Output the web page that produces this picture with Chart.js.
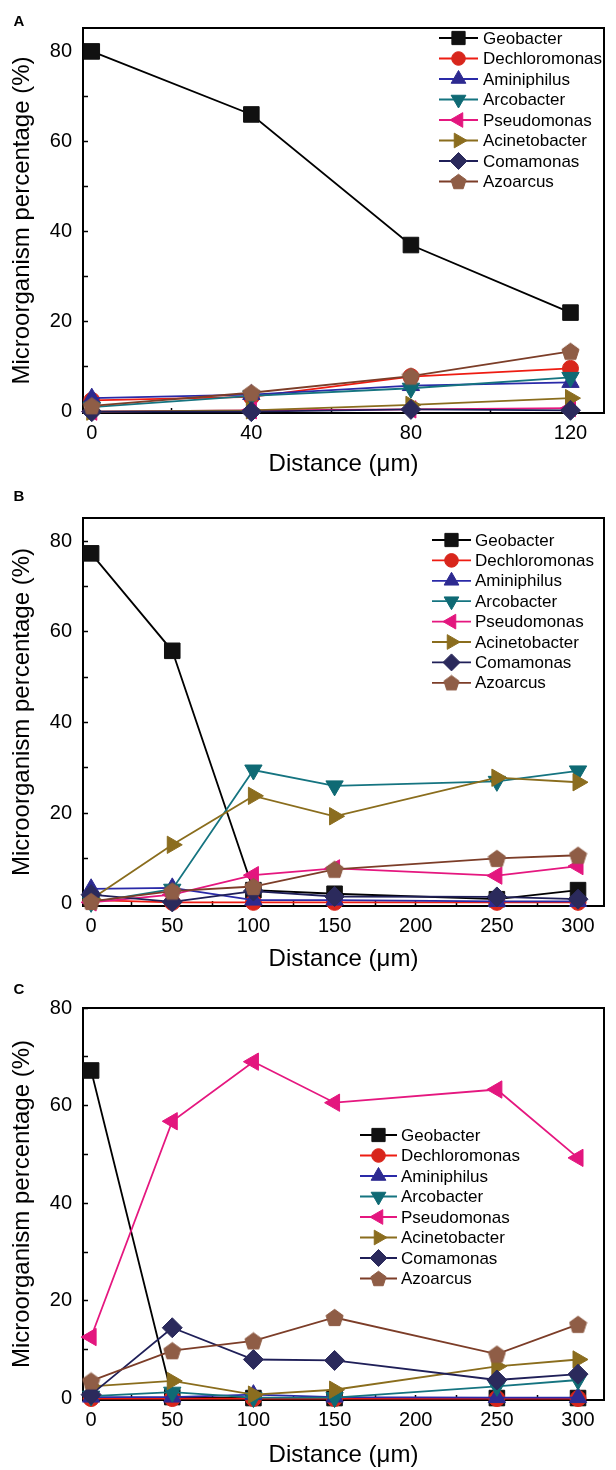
<!DOCTYPE html>
<html>
<head>
<meta charset="utf-8">
<title>Microorganism percentage vs distance</title>
<script src="https://cdn.jsdelivr.net/npm/chart.js@4.4.1/dist/chart.umd.min.js"></script>
<style>
  html, body { margin: 0; padding: 0; background: #fff; }
  body { width: 616px; height: 1470px; position: relative; overflow: hidden; }
  .panel { position: absolute; left: 0; width: 616px; height: 490px; }
</style>
</head>
<body>
<div class="panel" style="top:0"><canvas id="chartA"></canvas></div>
<div class="panel" style="top:490px"><canvas id="chartB"></canvas></div>
<div class="panel" style="top:980px"><canvas id="chartC"></canvas></div>
<script>
// ---------- data ----------
const seriesNames = ['Geobacter', 'Dechloromonas', 'Aminiphilus', 'Arcobacter',
  'Pseudomonas', 'Acinetobacter', 'Comamonas', 'Azoarcus'];
const panelLetters = ['A', 'B', 'C'];

const distA = [0, 40, 80, 120];
const distBC = [0, 50, 100, 150, 250, 300];

const xTicksA = [0, 40, 80, 120];
const xTicksBC = [0, 50, 100, 150, 200, 250, 300];
const yTicks = [0, 20, 40, 60, 80];

// panel A
const geobacterA = [80, 66, 37, 22];
const dechloromonasA = [2.5, 3.3, 7.8, 9.6];
const aminiphilusA = [3.0, 3.8, 5.8, 6.5];
const arcobacterA = [1.0, 3.5, 5.2, 7.6];
const pseudomonasA = [0.0, 0.3, 0.5, 0.8];
const acinetobacterA = [0.0, 0.3, 1.5, 3.0];
const comamonasA = [0.0, 0.0, 0.5, 0.3];
const azoarcusA = [1.3, 4.2, 7.9, 13.4];

// panel B
const geobacterB = [77.3, 55.8, 3.0, 2.2, 1.0, 3.0];
const dechloromonasB = [0.8, 0.3, 0.3, 0.3, 0.3, 0.3];
const aminiphilusB = [3.3, 3.5, 0.8, 0.8, 0.5, 0.5];
const arcobacterB = [0.3, 3.2, 29.5, 26.0, 27.0, 29.3];
const pseudomonasB = [0.3, 2.0, 6.3, 7.8, 6.2, 8.3];
const acinetobacterB = [1.0, 13.0, 23.8, 19.3, 27.8, 26.8];
const comamonasB = [2.0, 0.4, 2.8, 1.6, 1.5, 1.0];
const azoarcusB = [0.5, 2.8, 3.8, 7.6, 10.0, 10.7];

// panel C
const geobacterC = [67.2, 0.3, 0.1, 0.1, 0.1, 0.1];
const dechloromonasC = [0, 0, 0, 0, 0, 0];
const aminiphilusC = [0.3, 0.3, 0.8, 0.3, 0.2, 0.2];
const arcobacterC = [0.5, 1.3, 0.2, 0.2, 2.5, 3.8];
const pseudomonasC = [12.6, 56.8, 69.0, 60.6, 63.3, 49.3];
const acinetobacterC = [2.5, 3.6, 0.8, 1.8, 6.6, 8.0];
const comamonasC = [0.8, 14.5, 8.0, 7.8, 3.8, 5.0];
const azoarcusC = [3.6, 9.8, 11.8, 16.6, 9.1, 15.2];

// ---------- styling ----------
const FONT = '"Liberation Sans", Arial, sans-serif';
const lineColors = ['#000000', '#ee1c12', '#2a2aa8', '#157480', '#e5177f', '#8a6d1d', '#1f1f58', '#7c3d28'];
const markerColors = ['#111111', '#d8261c', '#2d2a90', '#0f6a74', '#e3167e', '#8b6d1f', '#2b2a5c', '#8f5d46'];
const markerStyles = ['rect', 'circle', 'triangle', 'triangle', 'triangle', 'triangle', 'rectRot', 'pentagon'];
const markerRotations = [0, 0, 0, 180, -90, 90, 0, 0];
const markerRadius = [11, 8, 10, 10, 10, 10, 10, 9];

// pentagon is not a built-in point style, so paint one on a small canvas
function pentagonImage(color, size) {
  const c = document.createElement('canvas');
  c.width = size; c.height = size;
  const g = c.getContext('2d');
  const r = size / 2 - 0.5;
  g.beginPath();
  for (let k = 0; k < 5; k++) {
    const a = -Math.PI / 2 + k * 2 * Math.PI / 5;
    const px = size / 2 + r * Math.cos(a);
    const py = size / 2 + r * Math.sin(a) + r * 0.095;
    if (k === 0) g.moveTo(px, py); else g.lineTo(px, py);
  }
  g.closePath();
  g.fillStyle = color;
  g.fill();
  g.lineWidth = 1;
  g.strokeStyle = color;
  g.stroke();
  return c;
}

function pointStyleFor(i, scale) {
  if (markerStyles[i] === 'pentagon') return pentagonImage(markerColors[i], Math.round(19 * scale));
  return markerStyles[i];
}

function buildDatasets(xs, rows) {
  return rows.map((row, i) => ({
    label: seriesNames[i],
    data: xs.map((x, j) => ({ x: x, y: row[j] })),
    borderColor: lineColors[i],
    backgroundColor: markerColors[i],
    borderWidth: 1.8,
    pointStyle: pointStyleFor(i, 1),
    pointRotation: markerRotations[i],
    pointRadius: markerRadius[i],
    pointBackgroundColor: markerColors[i],
    pointBorderColor: markerColors[i],
    pointBorderWidth: 1,
    tension: 0,
    clip: false,
    order: seriesNames.length - i
  }));
}

// ---------- plugins ----------
const framePlugin = {
  id: 'frame',
  afterDatasetsDraw(chart) {
    const { ctx, chartArea: a } = chart;
    ctx.save();
    ctx.strokeStyle = '#000';
    ctx.lineWidth = 2;
    ctx.beginPath();
    ctx.moveTo(a.left, a.top);
    ctx.lineTo(a.right, a.top);
    ctx.lineTo(a.right, a.bottom);
    ctx.stroke();
    ctx.restore();
  }
};

const insetLegend = {
  id: 'insetLegend',
  afterDraw(chart, args, opts) {
    const ctx = chart.ctx;
    ctx.save();
    ctx.font = '17px ' + FONT;
    ctx.textBaseline = 'middle';
    seriesNames.forEach((name, i) => {
      const y = opts.y0 + i * opts.dy;
      ctx.strokeStyle = lineColors[i];
      ctx.lineWidth = 1.8;
      ctx.beginPath();
      ctx.moveTo(opts.x0, y);
      ctx.lineTo(opts.x1, y);
      ctx.stroke();
      ctx.fillStyle = markerColors[i];
      ctx.strokeStyle = markerColors[i];
      ctx.lineWidth = 1;
      Chart.helpers.drawPoint(ctx, {
        pointStyle: pointStyleFor(i, 0.9),
        rotation: markerRotations[i],
        radius: markerRadius[i] * 0.85,
        borderWidth: 1
      }, (opts.x0 + opts.x1) / 2, y);
      ctx.fillStyle = '#000';
      ctx.fillText(name, opts.textX, y + 1);
    });
    ctx.restore();
  }
};

const panelLetter = {
  id: 'panelLetter',
  afterDraw(chart, args, opts) {
    const ctx = chart.ctx;
    ctx.save();
    ctx.font = 'bold 15px ' + FONT;
    ctx.fillStyle = '#000';
    ctx.textAlign = 'center';
    ctx.textBaseline = 'middle';
    ctx.fillText(opts.text, opts.x, opts.y);
    ctx.restore();
  }
};

function withMinor(majors) {
  const out = [];
  majors.forEach((v, i) => {
    out.push(v);
    if (i < majors.length - 1) out.push((v + majors[i + 1]) / 2);
  });
  return out;
}

// ---------- chart factory ----------
function makePanel(id, p) {
  const xAll = withMinor(p.xTicks);
  const yAll = withMinor(yTicks);
  return new Chart(document.getElementById(id), {
    type: 'line',
    data: { datasets: buildDatasets(p.xs, p.rows) },
    options: {
      responsive: true,
      maintainAspectRatio: false,
      devicePixelRatio: 1,
      animation: false,
      events: [],
      layout: { padding: { top: p.top, right: 6, bottom: 0, left: 0 } },
      plugins: {
        legend: { display: false },
        tooltip: { enabled: false },
        insetLegend: p.legend,
        panelLetter: p.letter
      },
      scales: {
        x: {
          type: 'linear',
          min: p.xMin,
          max: p.xMax,
          afterBuildTicks: s => { s.ticks = xAll.map(v => ({ value: v })); },
          afterFit: s => { s.height = p.xHeight; },
          ticks: {
            autoSkip: false,
            maxRotation: 0,
            padding: 13,
            color: '#000',
            font: { family: FONT, size: 20 },
            callback: v => (p.xTicks.includes(v) ? String(v) : '')
          },
          grid: { drawOnChartArea: false, tickLength: -5, color: '#000', tickWidth: 1.5 },
          border: { color: '#000', width: 2 },
          title: {
            display: true,
            text: 'Distance (\u03bcm)',
            color: '#000',
            font: { family: FONT, size: 24 },
            padding: { top: 0, bottom: p.xTitlePad }
          }
        },
        y: {
          type: 'linear',
          min: p.yMin,
          max: p.yMax,
          afterBuildTicks: s => { s.ticks = yAll.map(v => ({ value: v })); },
          afterFit: s => { s.width = 83; },
          ticks: {
            autoSkip: false,
            padding: 16,
            color: '#000',
            font: { family: FONT, size: 20 },
            callback: v => (yTicks.includes(v) ? String(v) : '')
          },
          grid: { drawOnChartArea: false, tickLength: -5, color: '#000', tickWidth: 1.5 },
          border: { color: '#000', width: 2 },
          title: {
            display: true,
            text: 'Microorganism percentage (%)',
            color: '#000',
            font: { family: FONT, size: 24 },
            padding: { top: 8, bottom: 0 }
          }
        }
      }
    },
    plugins: [framePlugin, insetLegend, panelLetter]
  });
}

makePanel('chartA', {
  xs: distA,
  rows: [geobacterA, dechloromonasA, aminiphilusA, arcobacterA, pseudomonasA, acinetobacterA, comamonasA, azoarcusA],
  xTicks: xTicksA, xMin: -2.2, xMax: 128.4, yMin: -0.3, yMax: 85.2,
  top: 16, xHeight: 77, xTitlePad: 11,
  legend: { x0: 439, x1: 478, textX: 483, y0: 38, dy: 20.5 },
  letter: { text: panelLetters[0], x: 19, y: 22 }
});

makePanel('chartB', {
  xs: distBC,
  rows: [geobacterB, dechloromonasB, aminiphilusB, arcobacterB, pseudomonasB, acinetobacterB, comamonasB, azoarcusB],
  xTicks: xTicksBC, xMin: -5, xMax: 316, yMin: -0.5, yMax: 85.1,
  top: 19, xHeight: 74, xTitlePad: 6,
  legend: { x0: 432, x1: 471, textX: 475, y0: 50, dy: 20.4 },
  letter: { text: panelLetters[1], x: 19, y: 7 }
});

makePanel('chartC', {
  xs: distBC,
  rows: [geobacterC, dechloromonasC, aminiphilusC, arcobacterC, pseudomonasC, acinetobacterC, comamonasC, azoarcusC],
  xTicks: xTicksBC, xMin: -5, xMax: 316, yMin: -0.3, yMax: 80,
  top: 23, xHeight: 70, xTitlePad: 0,
  legend: { x0: 360, x1: 397, textX: 401, y0: 155, dy: 20.5 },
  letter: { text: panelLetters[2], x: 19, y: 10 }
});
</script>
</body>
</html>
